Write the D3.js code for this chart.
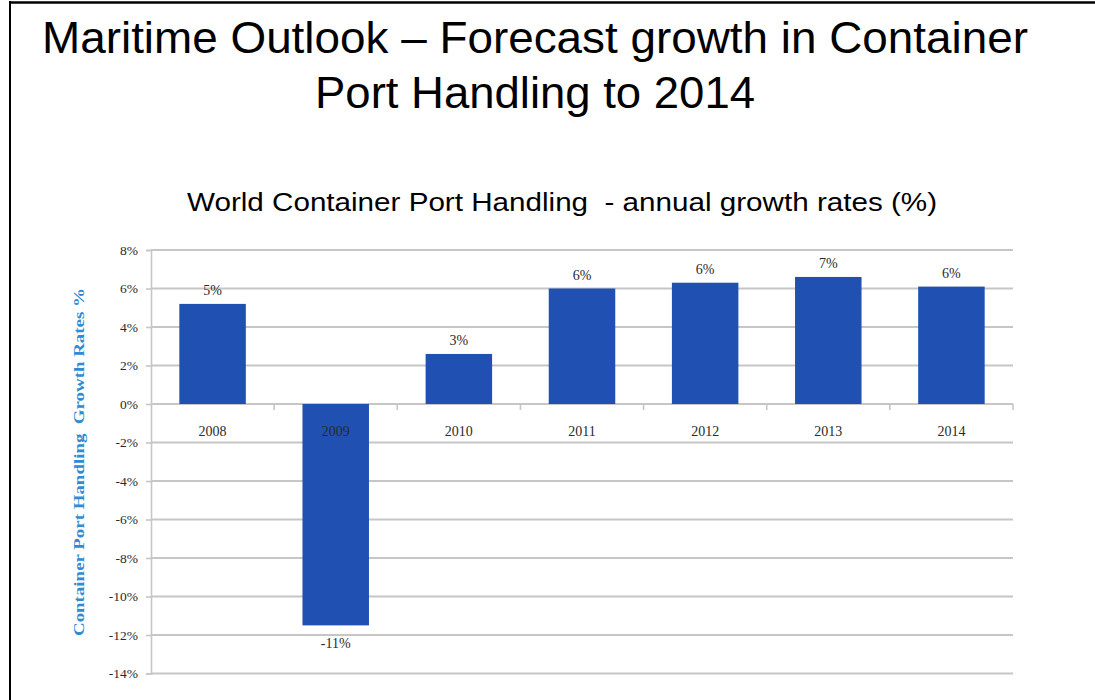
<!DOCTYPE html>
<html>
<head>
<meta charset="utf-8">
<script src="https://cdn.jsdelivr.net/npm/d3@7"></script>
<style>
  html, body { margin: 0; padding: 0; background: #fff; }
  svg { display: block; }
</style>
</head>
<body>
<svg id="chart" width="1095" height="700"></svg>
<script>
// Annual growth in world container port handling (%)
const years = ["2008", "2009", "2010", "2011", "2012", "2013", "2014"];
const growth = [5.2, -11.5, 2.6, 6.0, 6.3, 6.6, 6.1];
const yTicks = [8, 6, 4, 2, 0, -2, -4, -6, -8, -10, -12, -14];

const titleLines = ["Maritime Outlook \u2013 Forecast growth in Container", "Port Handling to 2014"];
const chartTitle = "World Container Port Handling  - annual growth rates (%)";
const yTitle = "Container Port Handling  Growth Rates %";

const svg = d3.select("#chart");
const serif = "'Liberation Serif', 'DejaVu Serif', serif";
const sans = "'Liberation Sans', Arial, sans-serif";

// slide frame
svg.append("line").attr("x1", 10).attr("x2", 1095).attr("y1", 2.5).attr("y2", 2.5)
  .attr("stroke", "#000").attr("stroke-width", 2.5);
svg.append("line").attr("x1", 10).attr("x2", 10).attr("y1", 1).attr("y2", 700)
  .attr("stroke", "#000").attr("stroke-width", 2);

// slide title
svg.append("text").attr("x", 42).attr("y", 53)
  .attr("font-family", sans).attr("font-size", 44).attr("fill", "#000")
  .attr("textLength", 986).attr("lengthAdjust", "spacingAndGlyphs")
  .text(titleLines[0]);
svg.append("text").attr("x", 315).attr("y", 108)
  .attr("font-family", sans).attr("font-size", 44).attr("fill", "#000")
  .attr("textLength", 440).attr("lengthAdjust", "spacingAndGlyphs")
  .text(titleLines[1]);

// chart title
svg.append("text").attr("x", 187).attr("y", 211)
  .attr("font-family", sans).attr("font-size", 25).attr("fill", "#000")
  .attr("textLength", 750).attr("lengthAdjust", "spacingAndGlyphs")
  .style("white-space", "pre")
  .text(chartTitle);

// plot area
const left = 151, right = 1013;
const x = d3.scaleBand().domain(years).range([left, right]).paddingInner(0.46).paddingOuter(0.23);
const y = d3.scaleLinear().domain([-14, 8]).range([673.5, 250]);

const grid = "#c6c6c6";

// gridlines
svg.append("g").selectAll("line").data(yTicks).join("line")
  .attr("x1", left).attr("x2", right)
  .attr("y1", d => y(d)).attr("y2", d => y(d))
  .attr("stroke", grid).attr("stroke-width", 2);

// y axis
const yAxis = d3.axisLeft(y).tickValues(yTicks).tickSize(5).tickPadding(8)
  .tickFormat(d => d + "%");
const gy = svg.append("g").attr("transform", `translate(${left},0)`).call(yAxis);
gy.select(".domain").attr("stroke", grid).attr("stroke-width", 1.6);
gy.selectAll(".tick line").attr("stroke", grid).attr("stroke-width", 1.6);
gy.selectAll(".tick text").attr("font-family", serif).attr("font-size", 13.5).attr("fill", "#2a2a2a");

// category boundary ticks along the zero line
const bounds = d3.range(years.length + 1).map(i => left + i * (right - left) / years.length);
svg.append("g").selectAll("line").data(bounds.slice(1)).join("line")
  .attr("x1", d => d).attr("x2", d => d)
  .attr("y1", y(0)).attr("y2", y(0) + 6)
  .attr("stroke", grid).attr("stroke-width", 1.6);

// bars
svg.append("g").selectAll("rect").data(growth).join("rect")
  .attr("x", (d, i) => x(years[i]))
  .attr("width", x.bandwidth())
  .attr("y", d => y(Math.max(0, d)))
  .attr("height", d => Math.abs(y(d) - y(0)))
  .attr("fill", "#2150b3");

// category labels
svg.append("g").selectAll("text").data(years).join("text")
  .attr("x", d => x(d) + x.bandwidth() / 2)
  .attr("y", y(0) + 32)
  .attr("text-anchor", "middle")
  .attr("font-family", serif).attr("font-size", 14).attr("fill", "#2a2a2a")
  .text(d => d);

// value labels
svg.append("g").selectAll("text").data(growth).join("text")
  .attr("x", (d, i) => x(years[i]) + x.bandwidth() / 2)
  .attr("y", d => d >= 0 ? y(d) - 9 : y(d) + 23)
  .attr("text-anchor", "middle")
  .attr("font-family", serif).attr("font-size", 14).attr("fill", "#2a2a2a")
  .text(d => Math.round(d) + "%");

// y axis title
svg.append("text")
  .attr("transform", "translate(84,462) rotate(-90)")
  .attr("text-anchor", "middle")
  .attr("font-family", serif).attr("font-size", 14.5).attr("font-weight", "bold")
  .attr("fill", "#2f8cd4")
  .attr("textLength", 348).attr("lengthAdjust", "spacingAndGlyphs")
  .style("white-space", "pre")
  .text(yTitle);
</script>
</body>
</html>
